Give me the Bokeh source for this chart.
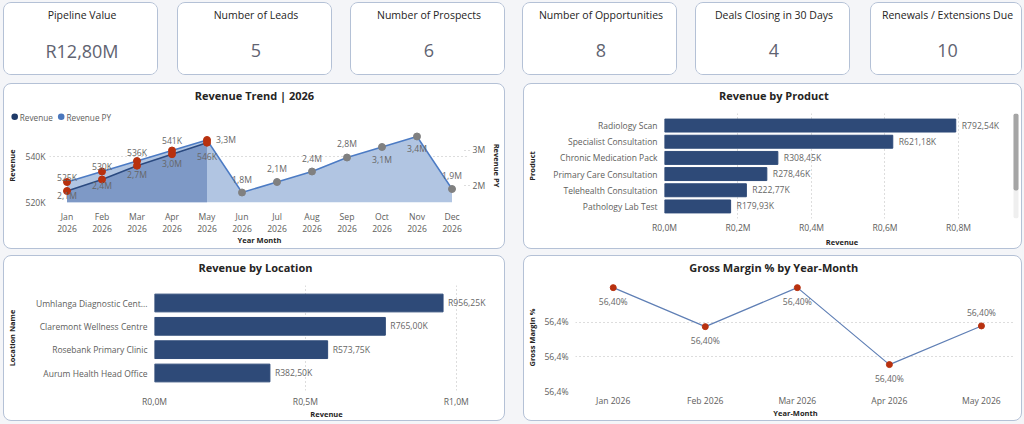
from bokeh.plotting import figure
from bokeh.models import (Range1d, FactorRange, LinearAxis, FixedTicker, ColumnDataSource,
                          LabelSet, BoxAnnotation, Spacer)
from bokeh.core.properties import value
from bokeh.embed import file_html
from bokeh.resources import INLINE

# ---------------- data ----------------
kpi_titles = ["Pipeline Value", "Number of Leads", "Number of Prospects",
              "Number of Opportunities", "Deals Closing in 30 Days", "Renewals / Extensions Due"]
kpi_values = [12_800_000, 5, 6, 8, 4, 10]

months = ["Jan", "Feb", "Mar", "Apr", "May", "Jun", "Jul", "Aug", "Sep", "Oct", "Nov", "Dec"]
year = "2026"
revenue = [525_000, 530_000, 536_000, 541_000, 546_000]
revenue_py = [2_100_000, 2_400_000, 2_700_000, 3_000_000, 3_300_000, 1_800_000,
              2_100_000, 2_400_000, 2_800_000, 3_100_000, 3_400_000, 1_900_000]
revenue_ticks = [520_000, 540_000]
revenue_py_ticks = [2_000_000, 3_000_000]

products = ["Radiology Scan", "Specialist Consultation", "Chronic Medication Pack",
            "Primary Care Consultation", "Telehealth Consultation", "Pathology Lab Test"]
product_revenue = [792_540, 621_180, 308_450, 278_460, 222_770, 179_930]
product_ticks = [0, 200_000, 400_000, 600_000, 800_000]

locations = ["Umhlanga Diagnostic Cent...", "Claremont Wellness Centre",
             "Rosebank Primary Clinic", "Aurum Health Head Office"]
location_revenue = [956_250, 765_000, 573_750, 382_500]
location_ticks = [0, 500_000, 1_000_000]

gm_months = ["Jan 2026", "Feb 2026", "Mar 2026", "Apr 2026", "May 2026"]
gross_margin_pct = [56.40101, 56.39988, 56.40101, 56.39878, 56.39990]
gm_ticks = [56.398, 56.399, 56.400]

# ---------------- styling ----------------
FONT = "Open Sans"
DARK = "#252423"
GREY = "#605E5C"
LABEL_GREY = "#666666"
BAR = "#2E4A78"
RED = "#B8310F"
DOT_GREY = "#808080"
PAGE_BG = "#F4F5F8"
BOX_CSS = {"border": "1px solid #B4C1D6", "border-radius": "8px", "overflow": "hidden",
           "box-sizing": "border-box", "background-color": "white"}
TICK_SIZE = "8.6px"

roots = []


def place(model, left, top, extra=None):
    css = {"position": "absolute", "left": f"{left}px", "top": f"{top}px"}
    if extra:
        css.update(extra)
    model.styles = css
    roots.append(model)
    return model


def rand_k(v):
    return f"R{v / 1000:.2f}K".replace(".", ",")


def rand_m(v, d=1):
    return f"R{v / 1e6:.{d}f}M".replace(".", ",")


def box(left, top, w, h):
    place(Spacer(width=w, height=h), left, top, BOX_CSS)


def chart(left, top, fl, ft, fw, fh, **kw):
    p = figure(frame_width=fw, frame_height=fh, min_border_left=fl, min_border_top=ft,
               min_border_right=0, min_border_bottom=0, toolbar_location=None,
               output_backend="svg", **kw)
    p.outline_line_color = None
    p.background_fill_color = None
    p.border_fill_color = None
    return place(p, left, top)


def strip(left, top, w, h):
    s = figure(width=w, height=h, x_range=Range1d(0, w), y_range=Range1d(h, 0),
               x_axis_type=None, y_axis_type=None, min_border=0, toolbar_location=None,
               output_backend="svg")
    s.grid.visible = False
    s.outline_line_color = None
    s.background_fill_color = None
    s.border_fill_color = None
    return place(s, left, top)


def title(s, x, y, text):
    s.text(x=[x], y=[y], text=[text], text_align="center", text_baseline="middle",
           text_font=value(FONT), text_font_size="11px", text_font_style="bold",
           text_color=DARK)


def style_axis(ax, standoff, title_standoff):
    ax.axis_line_color = None
    ax.major_tick_line_color = None
    ax.minor_tick_line_color = None
    ax.major_tick_out = 0
    ax.major_tick_in = 0
    ax.minor_tick_out = 0
    ax.minor_tick_in = 0
    ax.major_label_text_font = FONT
    ax.major_label_text_font_size = TICK_SIZE
    ax.major_label_text_color = GREY
    ax.major_label_text_line_height = 1.0
    ax.major_label_standoff = standoff
    ax.axis_label_text_font = FONT
    ax.axis_label_text_font_size = "7.5px"
    ax.axis_label_text_font_style = "bold"
    ax.axis_label_text_color = DARK
    ax.axis_label_text_line_height = 1.0
    ax.axis_label_standoff = title_standoff


def dotted(grid):
    grid.grid_line_color = "#BBBBBB"
    grid.grid_line_dash = "1 3"
    grid.grid_line_width = 1


def value_labels(p, src, x, y, **kw):
    p.add_layout(LabelSet(x=x, y=y, text="label", source=src, text_font=value(FONT),
                          text_font_size=TICK_SIZE, text_color=LABEL_GREY,
                          text_baseline="middle", **kw))


# ---------------- page background ----------------
place(Spacer(width=1024, height=424), 0, 0, {"background-color": PAGE_BG})

# ---------------- KPI cards ----------------
card_h = 73
card_lefts = [3, 177, 350, 522, 695, 870]
card_widths = [155, 155, 155, 155, 155, 152]
for name, val, x0, w in zip(kpi_titles, kpi_values, card_lefts, card_widths):
    shown = rand_m(val, 2) if val >= 1_000_000 else str(val)
    c = figure(width=w, height=card_h, x_range=Range1d(0, w), y_range=Range1d(card_h, 0),
               x_axis_type=None, y_axis_type=None, min_border=0, toolbar_location=None,
               output_backend="svg")
    c.outline_line_color = None
    c.grid.visible = False
    c.text(x=[w / 2], y=[11], text=[name], text_align="center", text_baseline="middle",
           text_font=value(FONT), text_font_size="10.5px", text_color=DARK)
    c.text(x=[w / 2], y=[47], text=[shown], text_align="center", text_baseline="middle",
           text_font=value(FONT), text_font_size="18px", text_color="#5F6371")
    place(c, x0, 2, BOX_CSS)

# ---------------- panel frames ----------------
box(3, 83, 502, 166)
box(523, 83, 499, 166)
box(3, 255, 502, 166)
box(523, 255, 499, 166)

# ---------------- Revenue trend ----------------
x_idx = list(range(len(months)))
rev_idx = x_idx[:len(revenue)]
rev_lo, rev_hi = 520_000, 552_174
py_lo, py_hi = 1_514_286, 3_628_571

sA = strip(3, 83, 502, 40)
title(sA, 251, 12, "Revenue Trend | 2026")
sA.scatter(x=[11.2, 57.7], y=[33.3, 33.3], size=6.6, fill_color=["#1E3A68", "#4A77BD"],
           line_color=None)
sA.text(x=[16.3, 63], y=[33.6, 33.6], text=["Revenue", "Revenue PY"], text_align="left",
        text_baseline="middle", text_font=value(FONT), text_font_size="8.2px", text_color=GREY)

pA = chart(4, 124, 43, 4, 420, 74, x_range=Range1d(-0.5, len(months) - 0.5),
           y_range=Range1d(rev_lo, rev_hi))
pA.extra_y_ranges = {"py": Range1d(py_lo, py_hi)}

pA.varea(x=x_idx, y1=py_lo, y2=revenue_py, y_range_name="py", fill_color="#B1C5E2")
pA.varea(x=rev_idx, y1=rev_lo, y2=revenue, fill_color="#7E99C6")
pA.line(x=rev_idx, y=revenue, line_color="#2B4A80", line_width=1.5)
pA.line(x=x_idx, y=revenue_py, y_range_name="py", line_color="#4C7BC4", line_width=1.5)

py_colors = [RED if i < len(revenue) else DOT_GREY for i in x_idx]
pA.scatter(x=x_idx, y=revenue_py, y_range_name="py", size=7, fill_color=py_colors,
           line_color=py_colors)
pA.scatter(x=rev_idx, y=revenue, size=7, fill_color=RED, line_color=RED)

rev_label_dy = [13, 13, 13, 13, -14]
py_label_dx = [0, 0, 0, 0, 19, 0, 0, 0, 0, 0, 0, 0]
py_label_dy = [-14, -14, -14, -14, 0, 13, 13, 13, 13, -13, -13, 13]
rev_src = ColumnDataSource(dict(x=rev_idx, y=revenue, label=[f"{v / 1000:.0f}K" for v in revenue],
                                dy=rev_label_dy))
py_src = ColumnDataSource(dict(x=x_idx, y=revenue_py,
                               label=[f"{v / 1e6:.1f}M".replace(".", ",") for v in revenue_py],
                               dx=py_label_dx, dy=py_label_dy))
value_labels(pA, rev_src, "x", "y", y_offset="dy", text_align="center")
value_labels(pA, py_src, "x", "y", x_offset="dx", y_offset="dy", y_range_name="py",
             text_align="center")

pA.xaxis.ticker = FixedTicker(ticks=x_idx)
pA.xaxis.major_label_overrides = {i: f"{m}\n{year}" for i, m in enumerate(months)}
pA.xaxis.axis_label = "Year Month"
style_axis(pA.xaxis[0], 8, -3)
pA.xaxis.major_label_text_line_height = 1.05
pA.yaxis.ticker = FixedTicker(ticks=revenue_ticks)
pA.yaxis.major_label_overrides = {t: f"{t / 1000:.0f}K" for t in revenue_ticks}
pA.yaxis.axis_label = "Revenue"
style_axis(pA.yaxis[0], 4, 5)
right_ax = LinearAxis(y_range_name="py", ticker=FixedTicker(ticks=revenue_py_ticks),
                      axis_label="Revenue PY")
right_ax.major_label_overrides = {t: f"{t / 1e6:.0f}M" for t in revenue_py_ticks}
pA.add_layout(right_ax, "right")
style_axis(right_ax, 3, 4)
right_ax.major_tick_in = 8
right_ax.major_tick_line_color = "#BBBBBB"
right_ax.major_tick_line_dash = "1 3"
pA.xgrid.visible = False
pA.ygrid.ticker = FixedTicker(ticks=revenue_ticks)
dotted(pA.ygrid)

# ---------------- Revenue by product ----------------
sB = strip(523, 83, 499, 27)
title(sB, 250.3, 12, "Revenue by Product")

pB = chart(524, 110, 139, 3, 355, 105, x_range=Range1d(0, 966_000),
           y_range=FactorRange(factors=products[::-1], range_padding=0.0817))
prod_src = ColumnDataSource(dict(name=products, v=product_revenue,
                                 label=[rand_k(v) for v in product_revenue]))
pB.hbar(y="name", right="v", left=0, height=0.8, source=prod_src, fill_color=BAR,
        line_color=BAR)
value_labels(pB, prod_src, "v", "name", x_offset=6, text_align="left")
pB.xaxis.ticker = FixedTicker(ticks=product_ticks)
pB.xaxis.major_label_overrides = {t: rand_m(t) for t in product_ticks}
pB.xaxis.axis_label = "Revenue"
style_axis(pB.xaxis[0], 3, 0)
pB.yaxis.axis_label = "Product"
style_axis(pB.yaxis[0], 7, 13)
pB.yaxis.major_label_text_font_size = "8.5px"
pB.ygrid.visible = False
pB.xgrid.ticker = FixedTicker(ticks=product_ticks)
dotted(pB.xgrid)
# scroll bar on the right edge
for bottom, fill in [(0, "#EFEFEF"), (28, "#A5A5A5")]:
    pB.add_layout(BoxAnnotation(left=349, right=354, bottom=bottom, top=105,
                                left_units="screen", right_units="screen",
                                bottom_units="screen", top_units="screen",
                                fill_color=fill, fill_alpha=1, line_color=None, border_radius=2))

# ---------------- Revenue by location ----------------
sC = strip(3, 255, 502, 27)
title(sC, 252, 12.3, "Revenue by Location")

pC = chart(4, 282, 150, 3, 344, 105, x_range=Range1d(0, 1_140_000),
           y_range=FactorRange(factors=locations[::-1], range_padding=0.125))
loc_src = ColumnDataSource(dict(name=locations, v=location_revenue,
                                label=[rand_k(v) for v in location_revenue]))
pC.hbar(y="name", right="v", left=0, height=0.76, source=loc_src, fill_color=BAR,
        line_color=BAR)
value_labels(pC, loc_src, "v", "name", x_offset=5, text_align="left")
pC.xaxis.ticker = FixedTicker(ticks=location_ticks)
pC.xaxis.major_label_overrides = {t: rand_m(t) for t in location_ticks}
pC.xaxis.axis_label = "Revenue"
style_axis(pC.xaxis[0], 5, -2)
pC.yaxis.axis_label = "Location Name"
style_axis(pC.yaxis[0], 7, 16)
pC.yaxis.major_label_text_font_size = "8.5px"
pC.ygrid.visible = False
pC.xgrid.ticker = FixedTicker(ticks=location_ticks)
dotted(pC.xgrid)

# ---------------- Gross margin ----------------
sD = strip(523, 255, 499, 26)
title(sD, 250.3, 12.3, "Gross Margin % by Year-Month")

gm_idx = list(range(len(gm_months)))
pD = chart(524, 281, 49, 2, 440, 108, x_range=Range1d(-0.41, 4.37),
           y_range=Range1d(56.398, 56.40113))
pD.line(x=gm_idx, y=gross_margin_pct, line_color="#5F7FB5", line_width=1.2)
pD.scatter(x=gm_idx, y=gross_margin_pct, size=6, fill_color=RED, line_color=RED)
gm_label_dy = [-14, -14, -14, -14, 13]
gm_src = ColumnDataSource(dict(x=gm_idx, y=gross_margin_pct,
                               label=[f"{v:.2f}%".replace(".", ",") for v in gross_margin_pct],
                               dy=gm_label_dy))
value_labels(pD, gm_src, "x", "y", y_offset="dy", text_align="center")
pD.xaxis.ticker = FixedTicker(ticks=gm_idx)
pD.xaxis.major_label_overrides = {i: m for i, m in enumerate(gm_months)}
pD.xaxis.axis_label = "Year-Month"
style_axis(pD.xaxis[0], 3, -2)
pD.yaxis.ticker = FixedTicker(ticks=gm_ticks)
pD.yaxis.major_label_overrides = {t: f"{t:.1f}%".replace(".", ",") for t in gm_ticks}
pD.yaxis.axis_label = "Gross Margin %"
style_axis(pD.yaxis[0], 7, 4)
pD.xgrid.visible = False
pD.ygrid.ticker = FixedTicker(ticks=gm_ticks)
dotted(pD.ygrid)

open("out.html", "w").write(file_html(roots, INLINE))
